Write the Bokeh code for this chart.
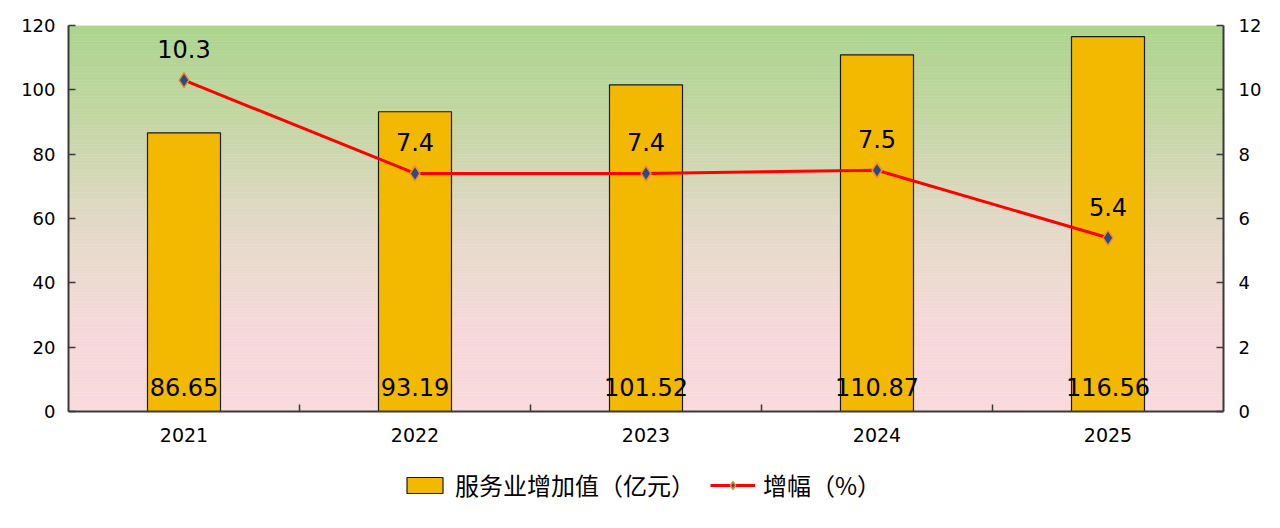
from bokeh.plotting import figure
from bokeh.layouts import column
from bokeh.models import Range1d, LinearAxis, FixedTicker, Legend, LegendItem, ColumnDataSource
from bokeh.core.properties import value
from bokeh.embed import file_html
from bokeh.resources import INLINE

# ---- data ----
years = ["2021", "2022", "2023", "2024", "2025"]
service_value = [86.65, 93.19, 101.52, 110.87, 116.56]
growth = [10.3, 7.4, 7.4, 7.5, 5.4]
left_ticks = [0, 20, 40, 60, 80, 100, 120]
right_ticks = [0, 2, 4, 6, 8, 10, 12]
bar_name = "服务业增加值（亿元）"
line_name = "增幅（%）"

xs = [i + 0.5 for i in range(len(years))]
between = [i for i in range(1, len(years))]

src = ColumnDataSource(dict(
    x=xs, year=years, val=service_value, g=growth,
    val_lbl=[f"{v:.2f}" for v in service_value],
    g_lbl=[f"{v}" for v in growth],
    zero=[0] * len(years),
))

bar_style = dict(fill_color="#f2b900", line_color="#1a1a1a", line_width=1.2)
line_style = dict(line_color="#ff0000", line_width=3)
mark_style = dict(marker="diamond", fill_color="#2b4a86", line_color="#f28c28", line_width=1.5)

p = figure(width=1264, height=460, output_backend="svg", toolbar_location=None,
           x_range=Range1d(0, len(years)), y_range=Range1d(left_ticks[0], left_ticks[-1]),
           min_border_left=68, min_border_right=41, min_border_top=25, min_border_bottom=49)
p.extra_y_ranges = {"pct": Range1d(right_ticks[0], right_ticks[-1])}
p.outline_line_color = None
p.grid.visible = False
p.background_fill_color = "white"

# ---- gradient background (style only) ----
stops = [(0.0, (248, 218, 221)), (0.22, (246, 216, 218)), (0.30, (240, 218, 212)),
         (0.40, (233, 218, 206)), (0.50, (225, 217, 198)), (0.60, (214, 216, 184)),
         (0.75, (196, 214, 164)), (1.0, (172, 213, 142))]
n = 120
ymax = left_ticks[-1]
bots, tops, cols = [], [], []
for k in range(n):
    f = (k + 0.5) / n
    for j in range(len(stops) - 1):
        if stops[j][0] <= f <= stops[j + 1][0]:
            a, ca = stops[j]
            b, cb = stops[j + 1]
            t = (f - a) / (b - a)
            c = tuple(int(round(ca[i] + (cb[i] - ca[i]) * t)) for i in range(3))
            break
    bots.append(ymax * k / n)
    tops.append(ymax * (k + 1) / n)
    cols.append("#%02x%02x%02x" % c)
p.quad(left=0, right=len(years), bottom=bots, top=tops, fill_color=cols, line_color=cols, line_width=0.5)

# ---- bars ----
p.vbar(x="x", top="val", width=0.316, source=src, **bar_style)

# ---- line ----
p.line(x="x", y="g", source=src, y_range_name="pct", **line_style)
p.scatter(x="x", y="g", source=src, y_range_name="pct", size=15, **mark_style)

# ---- labels ----
p.text(x="x", y="zero", text="val_lbl", source=src, text_align="center", text_baseline="bottom",
       y_offset=-16, text_font=value("DejaVu Sans"), text_font_size="24px", text_color="black")
p.text(x="x", y="g", text="g_lbl", source=src, y_range_name="pct", text_align="center",
       text_baseline="bottom", y_offset=-22, text_font=value("DejaVu Sans"), text_font_size="24px",
       text_color="black")

# ---- axes ----
axis_col = "#3a3a3a"
xa = p.xaxis[0]
xa.ticker = FixedTicker(ticks=xs, minor_ticks=between)
xa.major_label_overrides = {x: y for x, y in zip(xs, years)}
xa.major_tick_in = 0
xa.major_tick_out = 0
xa.minor_tick_in = 7
xa.minor_tick_out = 0
xa.minor_tick_line_color = axis_col
xa.minor_tick_line_width = 1.5
xa.axis_line_color = axis_col
xa.axis_line_width = 2
xa.major_label_standoff = 16
xa.major_label_text_font = "DejaVu Sans"
xa.major_label_text_font_size = "19px"
xa.major_label_text_color = "black"

ya = p.yaxis[0]
ya.ticker = FixedTicker(ticks=left_ticks)
ya.major_tick_in = 7
ya.major_tick_out = 0
ya.minor_tick_line_color = None
ya.axis_line_color = axis_col
ya.axis_line_width = 2
ya.major_tick_line_color = axis_col
ya.major_tick_line_width = 1.5
ya.major_label_standoff = 13
ya.major_label_text_font = "DejaVu Sans"
ya.major_label_text_font_size = "18px"
ya.major_label_text_color = "black"

ra = LinearAxis(y_range_name="pct", ticker=FixedTicker(ticks=right_ticks))
ra.major_tick_in = 7
ra.major_tick_out = 0
ra.minor_tick_line_color = None
ra.axis_line_color = axis_col
ra.axis_line_width = 2
ra.major_tick_line_color = axis_col
ra.major_tick_line_width = 1.5
ra.major_label_standoff = 15
ra.major_label_text_font = "DejaVu Sans"
ra.major_label_text_font_size = "18px"
ra.major_label_text_color = "black"
p.add_layout(ra, "right")

# ---- legend strip (own small figure under the chart) ----
lf = figure(width=1264, height=52, output_backend="svg", toolbar_location=None,
            x_range=Range1d(0, 1), y_range=Range1d(0, 1), x_axis_type=None, y_axis_type=None,
            min_border=0, min_border_left=0, min_border_right=0, min_border_top=0, min_border_bottom=0)
lf.outline_line_color = None
lf.grid.visible = False
nan = float("nan")
proxy = ColumnDataSource(dict(x=[nan], top=[nan], y=[nan]))  # legend-key proxies, nothing drawn
lb = lf.vbar(x="x", top="top", width=0.3, source=proxy, **bar_style)
ll = lf.line(x="x", y="y", source=proxy, **line_style)
lm = lf.scatter(x="x", y="y", source=proxy, size=15, **mark_style)
legend = Legend(items=[LegendItem(label=bar_name, renderers=[lb]),
                       LegendItem(label=line_name, renderers=[ll, lm])],
                orientation="horizontal", location=(334, 10), margin=0, padding=0,
                label_text_font="Noto Sans CJK SC", label_text_font_size="24px",
                label_text_color="black", glyph_width=45, glyph_height=20,
                label_standoff=8, spacing=15, border_line_color=None,
                background_fill_alpha=0)
lf.add_layout(legend)

open("out.html", "w").write(file_html(column(p, lf), INLINE))
